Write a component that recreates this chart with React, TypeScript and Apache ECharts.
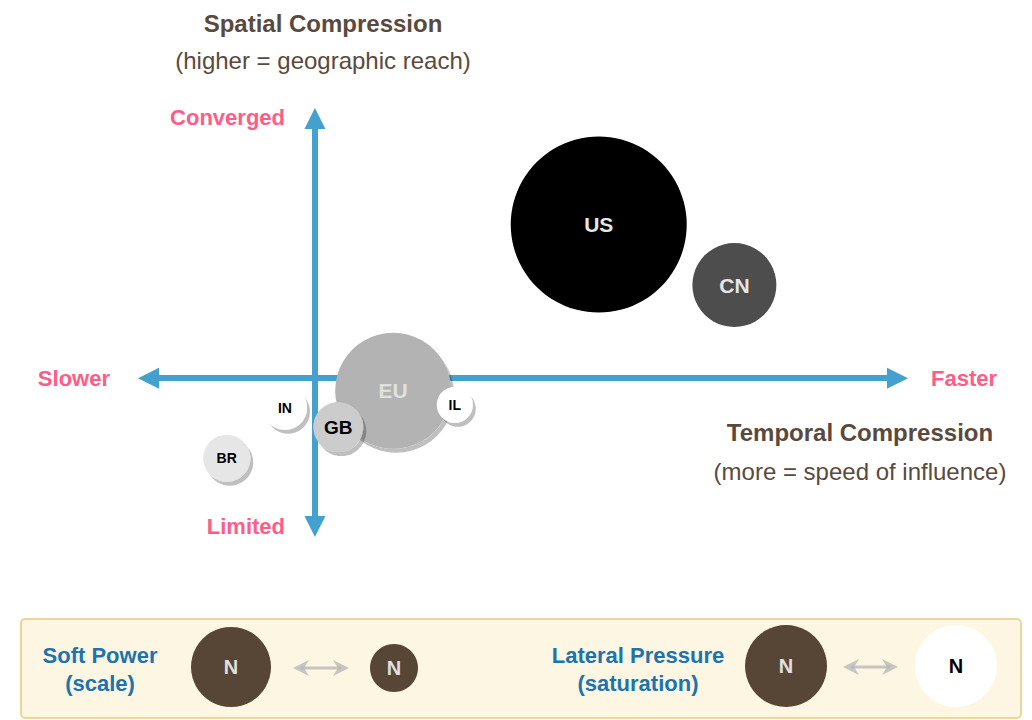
import React, { useEffect, useRef } from "react";
import * as echarts from "echarts";

// ---- Data ----
const codes = ["US", "CN", "EU", "IL", "GB", "IN", "BR"];
// temporal compression (x, speed of influence)
const temporal = [3.41, 5.04, 0.94, 1.68, 0.28, -0.36, -1.06];
// spatial compression (y, geographic reach)
const spatial = [2.07, 1.255, -0.17, -0.36, -0.66, -0.4, -1.08];
// soft power scale (bubble radius)
const softPower = [88, 42, 58, 18, 25, 22, 23.5];

const xMin = -2;
const xMax = 7;
const yMin = -2;
const yMax = 3.5;

// ---- Styles ----
const FONT = "'Liberation Sans', Arial, Helvetica, sans-serif";
const bubbleFill: Record<string, string> = {
  US: "#000000",
  CN: "#4d4d4d",
  EU: "#b3b3b3",
  IL: "#ffffff",
  GB: "#cccccc",
  IN: "#ffffff",
  BR: "#e6e6e6",
};
const labelColor: Record<string, string> = {
  US: "#e6e6e6",
  CN: "#e6e6e6",
  EU: "#e0e0e0",
  IL: "#000000",
  GB: "#000000",
  IN: "#000000",
  BR: "#000000",
};
const labelSize: Record<string, number> = {
  US: 21,
  CN: 21,
  EU: 21,
  IL: 14,
  GB: 19,
  IN: 14,
  BR: 14,
};
const shadowed: Record<string, boolean> = {
  US: false,
  CN: false,
  EU: true,
  IL: true,
  GB: true,
  IN: true,
  BR: true,
};

const AXIS_BLUE = "#43a1cd";
const PINK = "#ff5c86";
const BROWN = "#5a4a3d";
const BLUE_TXT = "#1b74ae";
const DOT = "#574535";

function txt(text: string, x: number, y: number, opts: any = {}) {
  return {
    type: "text",
    silent: true,
    style: {
      text,
      x,
      y,
      textAlign: opts.align || "center",
      textVerticalAlign: "middle",
      fontSize: opts.size || 22,
      fontWeight: opts.weight || "bold",
      fontFamily: FONT,
      fill: opts.color || BROWN,
    },
  };
}

function dblArrow(x1: number, x2: number, y: number) {
  const c = "rgba(180,180,180,0.75)";
  return [
    {
      type: "line",
      silent: true,
      shape: { x1: x1 + 8, y1: y, x2: x2 - 8, y2: y },
      style: { stroke: c, lineWidth: 3 },
    },
    {
      type: "polygon",
      silent: true,
      shape: { points: [[x1, y], [x1 + 16, y - 8], [x1 + 11, y], [x1 + 16, y + 8]] },
      style: { fill: c },
    },
    {
      type: "polygon",
      silent: true,
      shape: { points: [[x2, y], [x2 - 16, y - 8], [x2 - 11, y], [x2 - 16, y + 8]] },
      style: { fill: c },
    },
  ];
}

function legendDot(cx: number, cy: number, r: number, fill: string, labelFill: string) {
  return [
    {
      type: "circle",
      silent: true,
      shape: { cx, cy, r },
      style: { fill },
    },
    txt("N", cx, cy, { size: 20, color: labelFill }),
  ];
}

export default function App() {
  const ref = useRef<HTMLDivElement>(null);

  useEffect(() => {
    if (!ref.current) return;
    const chart = echarts.init(ref.current, null, { renderer: "svg" });

    const data = codes.map((c, i) => ({
      name: c,
      value: [temporal[i], spatial[i], softPower[i]],
      itemStyle: {
        color: bubbleFill[c],
        opacity: 1,
        ...(shadowed[c]
          ? {
              shadowColor: "rgba(0,0,0,0.25)",
              shadowOffsetX: 3,
              shadowOffsetY: 4,
              shadowBlur: 0,
            }
          : {}),
      },
      label: {
        color: labelColor[c],
        fontSize: labelSize[c],
      },
    }));

    const axisCommon = {
      type: "value",
      axisLine: {
        show: true,
        onZero: true,
        symbol: ["triangle", "triangle"],
        symbolSize: [21, 21],
        lineStyle: { color: AXIS_BLUE, width: 6 },
      },
      axisTick: { show: false },
      axisLabel: { show: false },
      splitLine: { show: false },
    };

    const option: any = {
      animation: false,
      backgroundColor: "#ffffff",
      grid: { left: 148.5, top: 118.5, width: 749, height: 408 },
      xAxis: { ...axisCommon, min: xMin, max: xMax },
      yAxis: { ...axisCommon, min: yMin, max: yMax },
      series: [
        {
          type: "scatter",
          data,
          symbol: "circle",
          symbolSize: (v: number[]) => v[2] * 2,
          z: 5,
          itemStyle: { opacity: 1 },
          label: {
            show: true,
            position: "inside",
            formatter: "{b}",
            fontWeight: "bold",
            fontFamily: FONT,
          },
          emphasis: { disabled: true },
        },
      ],
      graphic: [
        txt("Spatial Compression", 323, 23, { size: 24 }),
        txt("(higher = geographic reach)", 323, 60, { size: 24, weight: "normal" }),
        txt("Temporal Compression", 860, 432, { size: 24 }),
        txt("(more = speed of influence)", 860, 471, { size: 24, weight: "normal" }),
        txt("Converged", 285, 117, { align: "right", color: PINK }),
        txt("Limited", 285, 526, { align: "right", color: PINK }),
        txt("Slower", 110, 378, { align: "right", color: PINK }),
        txt("Faster", 931, 378, { align: "left", color: PINK }),
        {
          type: "rect",
          silent: true,
          shape: { x: 21, y: 619, width: 1000, height: 99, r: 4 },
          style: { fill: "#fdf6e2", stroke: "#ead79e", lineWidth: 2 },
        },
        txt("Soft Power", 100, 655, { color: BLUE_TXT }),
        txt("(scale)", 100, 683, { color: BLUE_TXT }),
        ...legendDot(231, 667, 40, DOT, "#e0e0e0"),
        ...dblArrow(293, 349, 668),
        ...legendDot(394, 668, 24, DOT, "#e0e0e0"),
        txt("Lateral Pressure", 638, 655, { color: BLUE_TXT }),
        txt("(saturation)", 638, 683, { color: BLUE_TXT }),
        ...legendDot(786, 666, 41, DOT, "#e0e0e0"),
        ...dblArrow(843, 898, 667),
        ...legendDot(956, 666, 41, "#ffffff", "#000000"),
      ],
    };

    chart.setOption(option);
    return () => chart.dispose();
  }, []);

  return (
    <div
      ref={ref}
      style={{ position: "absolute", left: 0, top: 0, width: 1032, height: 720 }}
    />
  );
}
